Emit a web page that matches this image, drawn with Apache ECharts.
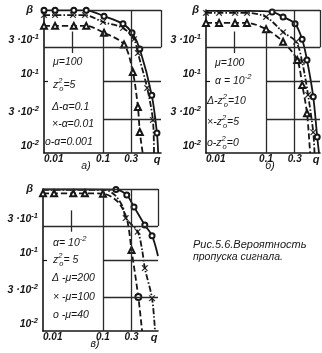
<!DOCTYPE html>
<html>
<head>
<meta charset="utf-8">
<script src="https://cdn.jsdelivr.net/npm/echarts@6/dist/echarts.min.js"></script>
<style>
html, body { margin: 0; padding: 0; background: #fff; }
#chart { width: 322px; height: 353px; }
</style>
</head>
<body>
<div id="chart"></div>
<script>
// tick labels
var xTicks = [0.01, 0.1, 0.3];
var xTickLabels = ['0.01', '0.1', '0.3'];
var yTicks = [0.01, 0.03, 0.1, 0.3];
var yTickLabels = ['10{s|-2}', '3 ·10{s|-2}', '10{s|-1}', '3 ·10{s|-1}'];

// а) mu=100, z0^2=5 ; alpha = 0.001 / 0.01 / 0.1
var aQo = [0.01, 0.0154, 0.032, 0.052, 0.104, 0.218, 0.31, 0.42, 0.67, 0.82, 0.86];
var aBo = [0.99, 0.99, 0.99, 0.99, 0.82, 0.64, 0.48, 0.285, 0.064, 0.019, 0.01];
var aMo = [1, 1, 1, 1, 1, 1, 1, 1, 1, 1, 0];
var aQx = [0.01, 0.0154, 0.031, 0.0495, 0.1, 0.218, 0.335, 0.39, 0.56, 0.70, 0.73];
var aBx = [0.85, 0.85, 0.85, 0.85, 0.68, 0.56, 0.39, 0.25, 0.081, 0.029, 0.01];
var aMx = [1, 1, 1, 1, 1, 1, 1, 1, 1, 1, 0];
var aQt = [0.01, 0.0154, 0.032, 0.052, 0.104, 0.227, 0.32, 0.39, 0.42, 0.47];
var aBt = [0.60, 0.60, 0.60, 0.60, 0.48, 0.33, 0.136, 0.044, 0.0197, 0.01];
var aMt = [1, 1, 1, 1, 1, 1, 1, 1, 1, 0];

// б) mu=100, alpha=1e-2 ; z0^2 = 0 / 5 / 10
var bQo = [0.01, 0.05, 0.126, 0.192, 0.304, 0.398, 0.48, 0.61, 0.71, 0.76];
var bBo = [0.97, 0.97, 0.94, 0.80, 0.64, 0.39, 0.2, 0.061, 0.0167, 0.01];
var bMo = [0, 0, 1, 1, 1, 1, 1, 1, 1, 0];
var bQx = [0.01, 0.0165, 0.0304, 0.0482, 0.1, 0.192, 0.316, 0.398, 0.50, 0.61, 0.64];
var bBx = [0.91, 0.91, 0.91, 0.91, 0.80, 0.49, 0.36, 0.19, 0.065, 0.0195, 0.01];
var bMx = [1, 1, 1, 1, 1, 1, 1, 1, 1, 1, 0];
var bQt = [0.01, 0.0165, 0.0304, 0.048, 0.1, 0.192, 0.33, 0.40, 0.48, 0.54];
var bBt = [0.66, 0.66, 0.66, 0.66, 0.54, 0.36, 0.2, 0.089, 0.036, 0.01];
var bMt = [1, 1, 1, 1, 1, 1, 1, 1, 1, 0];

// в) alpha=1e-2, z0^2=5 ; mu = 40 / 100 / 200
var cQo = [0.01, 0.05, 0.165, 0.25, 0.33, 0.5, 0.66, 0.83];
var cBo = [0.99, 0.99, 0.98, 0.82, 0.56, 0.31, 0.22, 0.114];
var cMo = [0, 0, 1, 1, 1, 1, 1, 0];
var cQx = [0.01, 0.05, 0.108, 0.158, 0.215, 0.24, 0.38, 0.45, 0.5, 0.66, 0.74];
var cBx = [0.97, 0.97, 0.97, 0.82, 0.56, 0.39, 0.25, 0.14, 0.077, 0.029, 0.01];
var cMx = [0, 0, 0, 0, 0, 1, 1, 0, 1, 1, 0];
var cQt = [0.01, 0.0153, 0.032, 0.05, 0.1, 0.178, 0.25, 0.30, 0.39, 0.45];
var cBt = [0.87, 0.87, 0.87, 0.87, 0.86, 0.66, 0.38, 0.138, 0.03, 0.01];
var cMt = [1, 1, 1, 1, 1, 0, 0, 1, 2, 0];

var F = 'Liberation Sans';
var INK = '#161616';
var CROSS = 'path://M1,0L5,4L9,0L10,1L6,5L10,9L9,10L5,6L1,10L0,9L4,5L0,1Z';

function pts(q, b, m) {
    return q.map(function (v, i) {
        var d = { value: [v, b[i]] };
        if (!m[i]) d.symbol = 'none';
        if (m[i] === 2) d.symbol = 'emptyCircle';
        return d;
    });
}

function curve(g, q, b, m, sym, size, dash, grid) {
    var s = {
        type: 'line', xAxisIndex: g, yAxisIndex: g,
        data: pts(q, b, m),
        symbol: sym, symbolSize: size, showAllSymbol: true,
        smooth: 0.3, animation: false, z: 3,
        lineStyle: { color: INK, width: 1.8, type: dash },
        itemStyle: { color: INK, borderColor: INK, borderWidth: sym === CROSS ? 0.3 : 1.1 }
    };
    if (grid) {
        s.markLine = {
            silent: true, animation: false, symbol: ['none', 'none'],
            label: { show: false },
            lineStyle: { color: '#2a2a2a', width: 1.3, type: 'solid' },
            data: grid.map(function (l) {
                return [{ coord: [l[0], l[1]] }, { coord: [l[2], l[3]] }];
            })
        };
    }
    return s;
}

function xAx(g, max) {
    return {
        type: 'log', logBase: 10, gridIndex: g, min: 0.01, max: max,
        name: 'q', nameLocation: 'end', nameGap: -4,
        nameTextStyle: { color: INK, fontFamily: F, fontSize: 11, fontStyle: 'italic', fontWeight: 'bold',
            align: 'center', verticalAlign: 'top', padding: [1, 0, 0, 0] },
        axisLine: { show: true, onZero: false, lineStyle: { color: INK, width: 1.6 } },
        axisTick: { show: false },
        splitLine: { show: false },
        axisLabel: {
            customValues: xTicks, margin: 1, color: INK, fontFamily: F, fontSize: 10,
            fontStyle: 'italic', fontWeight: 'bold', alignMinLabel: 'left',
            formatter: function (v) {
                for (var i = 0; i < xTicks.length; i++) {
                    if (Math.abs(v / xTicks[i] - 1) < 0.01) return xTickLabels[i];
                }
                return '';
            }
        }
    };
}

function yAx(g, pad) {
    return {
        type: 'log', logBase: 10, gridIndex: g, min: 0.01, max: 1,
        name: 'β', nameLocation: 'end', nameGap: 0,
        nameTextStyle: { color: INK, fontFamily: F, fontSize: 11, fontStyle: 'italic', fontWeight: 'bold',
            align: 'right', verticalAlign: 'middle', padding: [0, pad, 0, 0] },
        axisLine: { show: true, onZero: false, lineStyle: { color: INK, width: 1.6 } },
        axisTick: { show: true, inside: true, length: 4, customValues: [0.1], lineStyle: { color: INK, width: 1.2 } },
        splitLine: { show: false },
        axisLabel: {
            customValues: yTicks, margin: 5, color: INK, fontFamily: F, fontSize: 10.5,
            fontStyle: 'italic', fontWeight: 'bold', verticalAlign: 'bottom', lineHeight: 14,
            rich: { s: { fontSize: 7.5, fontFamily: F, fontStyle: 'italic', fontWeight: 'bold', color: INK, verticalAlign: 'top' } },
            formatter: function (v) {
                for (var i = 0; i < yTicks.length; i++) {
                    if (Math.abs(v / yTicks[i] - 1) < 0.01) return yTickLabels[i];
                }
                return '';
            }
        }
    };
}

// partial grid lines [x1, y1, x2, y2]
var aGrid = [[0.06, 1, 0.96, 1], [0.01, 0.3, 0.96, 0.3], [0.1, 0.1, 0.96, 0.1], [0.1, 0.03, 0.96, 0.03],
    [0.03, 0.5, 0.03, 0.25], [0.1, 0.5, 0.1, 0.01], [0.3, 1, 0.3, 0.01], [0.96, 1, 0.96, 0.3]];
var bGrid = [[0.13, 1, 0.79, 1], [0.01, 0.3, 0.79, 0.3], [0.1, 0.1, 0.79, 0.1], [0.1, 0.03, 0.79, 0.03],
    [0.03, 0.5, 0.03, 0.25], [0.1, 0.5, 0.1, 0.01], [0.3, 1, 0.3, 0.01], [0.79, 1, 0.79, 0.3]];
var cGrid = [[0.01, 1, 0.83, 1], [0.01, 0.3, 0.83, 0.3], [0.1, 0.1, 0.83, 0.1], [0.1, 0.03, 0.83, 0.03],
    [0.03, 0.5, 0.03, 0.25], [0.1, 1, 0.1, 0.01], [0.3, 1, 0.3, 0.01], [0.83, 1, 0.83, 0.3]];

var base = { fontFamily: F, fontSize: 10.5, fontStyle: 'italic', fill: INK, lineHeight: 16, textVerticalAlign: 'middle' };
var supS = { fontFamily: F, fontSize: 7.5, fontStyle: 'italic', fill: INK, verticalAlign: 'top' };
var subS = { fontFamily: F, fontSize: 7.5, fontStyle: 'italic', fill: INK, verticalAlign: 'bottom' };
var supN = { fontFamily: F, fontSize: 7.5, fontStyle: 'italic', fill: INK, verticalAlign: 'top', width: 1 };
var rich = { s: supS, b: subS, n: supN };

function txt(x, y, t, extra) {
    var st = { text: t, rich: rich };
    for (var k in base) st[k] = base[k];
    if (extra) for (var e in extra) st[e] = extra[e];
    return { type: 'text', x: x, y: y, silent: true, z: 10, style: st };
}

var option = {
    backgroundColor: '#fff',
    animation: false,
    grid: [
        { left: 44, top: 10, width: 117, height: 143 },
        { left: 206, top: 10, width: 114, height: 143 },
        { left: 43, top: 189, width: 115, height: 142 }
    ],
    xAxis: [xAx(0, 0.96), xAx(1, 0.79), xAx(2, 0.83)],
    yAxis: [yAx(0, 11), yAx(1, 7), yAx(2, 10)],
    series: [
        curve(0, aQo, aBo, aMo, 'emptyCircle', 5, 'solid', aGrid),
        curve(0, aQx, aBx, aMx, CROSS, 6, [6, 2, 1.5, 2]),
        curve(0, aQt, aBt, aMt, 'emptyTriangle', 6, [6, 3]),
        curve(1, bQo, bBo, bMo, 'emptyCircle', 5, 'solid', bGrid),
        curve(1, bQx, bBx, bMx, CROSS, 6, [6, 2, 1.5, 2]),
        curve(1, bQt, bBt, bMt, 'emptyTriangle', 6, [6, 3]),
        curve(2, cQo, cBo, cMo, 'emptyCircle', 5, 'solid', cGrid),
        curve(2, cQx, cBx, cMx, CROSS, 6, [6, 2, 1.5, 2]),
        curve(2, cQt, cBt, cMt, 'emptyTriangle', 6, [6, 3])
    ],
    graphic: [
        txt(53, 62, 'μ=100'),
        txt(53, 85, 'z{n|2}{b|o}=5'),
        txt(52, 107, 'Δ-α=0.1'),
        txt(52, 124, '×-α=0.01'),
        txt(45, 142, 'o-α=0.001'),
        txt(215, 63, 'μ=100'),
        txt(215, 81, 'α = 10{s|-2}'),
        txt(207, 101, 'Δ-z{n|2}{b|o}=10'),
        txt(207, 122, '×-z{n|2}{b|o}=5'),
        txt(207, 143, 'o-z{n|2}{b|o}=0'),
        txt(53, 243, 'α= 10{s|-2}'),
        txt(53, 260, 'z{n|2}{b|o}= 5'),
        txt(52, 278, 'Δ -μ=200'),
        txt(53, 297, '× -μ=100'),
        txt(53, 315, 'o -μ=40'),
        txt(86, 166, 'а)', { textAlign: 'center' }),
        txt(270, 166, 'б)', { textAlign: 'center' }),
        txt(95, 344, 'в)', { textAlign: 'center' }),
        txt(193, 245, 'Рис.5.6.Вероятность', { fontSize: 11 }),
        txt(193, 257, 'пропуска сигнала.', { fontSize: 10.5 })
    ]
};

var chart = echarts.init(document.getElementById('chart'));
chart.setOption(option);
</script>
</body>
</html>
